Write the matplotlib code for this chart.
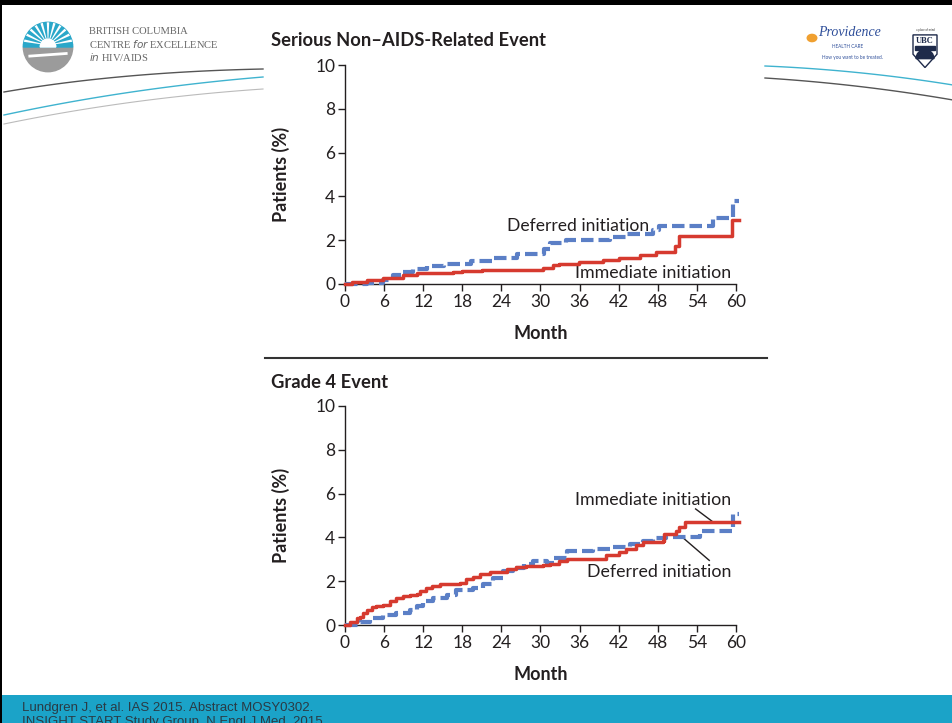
import matplotlib
matplotlib.use("Agg")
import matplotlib.pyplot as plt
import numpy as np
from matplotlib.patches import Rectangle, Circle, Wedge, Polygon
from matplotlib.lines import Line2D

plt.rcParams['font.family'] = ['Lato', 'DejaVu Sans']

# ---------------- data ----------------
months_ticks = [0, 6, 12, 18, 24, 30, 36, 42, 48, 54, 60]
pct_ticks = [0, 2, 4, 6, 8, 10]

# Serious non-AIDS-related event
snae_imm_t = [0, 1.0, 3.4, 5.8, 8.9, 11.0, 16.5, 18.0, 21.0, 30.4, 31.9, 32.9, 35.9, 39.6, 42.1, 45.2, 47.7, 50.6, 51.2, 59.4, 60.5]
snae_imm_v = [0, 0.1, 0.18, 0.27, 0.4, 0.48, 0.55, 0.6, 0.65, 0.75, 0.85, 0.92, 1.0, 1.08, 1.2, 1.32, 1.47, 1.75, 2.2, 2.9, 2.9]
snae_def_t = [0, 3.4, 5.8, 7.4, 8.9, 10.4, 12.6, 15.2, 19.3, 22.9, 26.4, 30.5, 31.4, 33.9, 40.6, 43.1, 47.2, 48.2, 56.4, 59.5, 60.5]
snae_def_v = [0, 0.05, 0.2, 0.4, 0.55, 0.67, 0.8, 0.93, 1.05, 1.2, 1.36, 1.6, 1.85, 2.0, 2.15, 2.3, 2.45, 2.65, 3.0, 3.8, 3.8]

# Grade 4 event
g4_imm_t = [0, 0.8, 1.8, 2.3, 2.8, 3.3, 4.1, 4.8, 5.9, 6.9, 7.9, 8.9, 10.0, 11.0, 11.5, 12.5, 13.3, 14.6, 15.6, 17.6, 18.6, 19.7, 20.7, 22.2, 24.8, 26.3, 27.8, 30.4, 31.4, 32.9, 34.0, 38.5, 40.1, 42.1, 43.1, 44.7, 45.7, 48.8, 49.0, 50.8, 51.3, 52.1, 60.5]
g4_imm_v = [0, 0.15, 0.3, 0.38, 0.54, 0.69, 0.82, 0.88, 0.92, 1.08, 1.23, 1.34, 1.38, 1.43, 1.54, 1.69, 1.77, 1.85, 1.89, 1.92, 2.08, 2.2, 2.31, 2.42, 2.54, 2.66, 2.69, 2.72, 2.8, 2.92, 3.03, 3.03, 3.18, 3.34, 3.49, 3.65, 3.77, 3.85, 4.15, 4.3, 4.46, 4.72, 4.72]
g4_def_t = [0, 2.3, 3.8, 5.9, 7.9, 10.0, 11.0, 12.0, 13.5, 15.6, 17.1, 19.7, 21.2, 22.7, 24.3, 25.8, 27.4, 28.9, 31.0, 32.0, 34.0, 38.1, 40.6, 43.7, 45.7, 47.2, 49.3, 54.4, 59.5, 60.5]
g4_def_v = [0, 0.15, 0.3, 0.46, 0.54, 0.69, 0.85, 1.08, 1.23, 1.38, 1.58, 1.69, 1.85, 2.15, 2.46, 2.62, 2.77, 2.92, 2.85, 3.08, 3.38, 3.49, 3.54, 3.69, 3.85, 3.95, 4.0, 4.3, 5.05, 5.05]

RED = '#d63a2f'
BLUE = '#5b7fc6'
TXT = '#231f20'

W, H = 953, 723
fig = plt.figure(figsize=(W / 100, H / 100), dpi=100)

def fx(px):
    return px / W

def fy(py):
    return 1 - py / H

def make_axes(top_px, bottom_px):
    ax = fig.add_axes([fx(345), fy(bottom_px), fx(736) - fx(345), fy(top_px) - fy(bottom_px)])
    ax.set_xlim(0, 60)
    ax.set_ylim(0, 10)
    for s in ['top', 'right']:
        ax.spines[s].set_visible(False)
    for s in ['left', 'bottom']:
        ax.spines[s].set_color(TXT)
        ax.spines[s].set_linewidth(1.0)
    ax.set_xticks(months_ticks)
    ax.set_yticks(pct_ticks)
    ax.tick_params(axis='both', direction='out', length=5, width=1.0, colors=TXT,
                   labelsize=12.5, pad=2)
    ax.set_xticklabels([str(m) for m in months_ticks])
    ax.set_yticklabels([str(p) for p in pct_ticks])
    ax.set_xlabel('Month', fontsize=13, fontweight='bold', color=TXT, labelpad=11)
    ax.set_ylabel('Patients (%)', fontsize=13, fontweight='bold', color=TXT, labelpad=18)
    ax.patch.set_alpha(0)
    return ax

# ---------------- top chart ----------------
ax1 = make_axes(65, 284)
ax1.step(snae_def_t, snae_def_v, where='post', color=BLUE, lw=3, ls=(0, (3.0, 1.2)), clip_on=False, zorder=3)
ax1.step(snae_imm_t, snae_imm_v, where='post', color=RED, lw=2.5, clip_on=False, zorder=4)
ax1.text(46.7, 2.65, 'Deferred initiation', ha='right', va='center', fontsize=12.6, color=TXT)
ax1.text(59.3, 0.5, 'Immediate initiation', ha='right', va='center', fontsize=12.8, color=TXT)
fig.text(fx(271), fy(40), 'Serious Non\u2013AIDS-Related Event', fontsize=13.2, fontweight='bold',
         color=TXT, ha='left', va='center')

# ---------------- bottom chart ----------------
ax2 = make_axes(406, 625)
ax2.step(g4_def_t, g4_def_v, where='post', color=BLUE, lw=3, ls=(0, (3.0, 1.2)), clip_on=False, zorder=3)
ax2.step(g4_imm_t, g4_imm_v, where='post', color=RED, lw=2.5, clip_on=False, zorder=4)
ax2.text(59.3, 5.7, 'Immediate initiation', ha='right', va='center', fontsize=12.8, color=TXT)
ax2.text(59.3, 2.42, 'Deferred initiation', ha='right', va='center', fontsize=12.8, color=TXT)
ax2.plot([53.8, 56.4], [5.3, 4.72], color=TXT, lw=1.0, clip_on=False)
ax2.plot([51.8, 55.9], [4.0, 2.95], color=TXT, lw=1.0, clip_on=False)
fig.text(fx(271), fy(382), 'Grade 4 Event', fontsize=13.2, fontweight='bold',
         color=TXT, ha='left', va='center')

# separator line
fig.add_artist(Line2D([fx(265), fx(767)], [fy(358), fy(358)], color='#333333', lw=1.5))

# ---------------- slide decoration ----------------
# border
fig.add_artist(Rectangle((0, fy(5)), 1, fy(0) - fy(5), transform=fig.transFigure,
                         color='black', lw=0))
fig.add_artist(Rectangle((0, 0), fx(2), 1, transform=fig.transFigure, color='black', lw=0))

# footer
fig.add_artist(Rectangle((fx(2), 0), 1, fy(695), transform=fig.transFigure,
                         color='#1ba3c8', lw=0))
fig.text(fx(22), fy(708), 'Lundgren J, et al. IAS 2015. Abstract MOSY0302.',
         fontsize=9.5, color='#2a3a44', family=['Liberation Sans Narrow', 'Liberation Sans', 'DejaVu Sans'],
         ha='left', va='center')
fig.text(fx(22), fy(722), 'INSIGHT START Study Group. N Engl J Med. 2015.',
         fontsize=9.5, color='#2a3a44', family=['Liberation Sans Narrow', 'Liberation Sans', 'DejaVu Sans'],
         ha='left', va='center')

# swoosh lines
def curve(p0, p1, p2, color, lw):
    t = np.linspace(0, 1, 60)
    xs = (1 - t) ** 2 * p0[0] + 2 * (1 - t) * t * p1[0] + t ** 2 * p2[0]
    ys = (1 - t) ** 2 * p0[1] + 2 * (1 - t) * t * p1[1] + t ** 2 * p2[1]
    fig.add_artist(Line2D([fx(v) for v in xs], [fy(v) for v in ys], color=color, lw=lw))

curve((4, 92), (120, 72), (263, 69), '#555555', 1.0)
curve((4, 115), (130, 88), (263, 77), '#3fb3cf', 1.0)
curve((4, 124), (130, 98), (263, 89), '#bbbbbb', 0.8)
curve((765, 66), (860, 70), (953, 85), '#3fb3cf', 1.0)
curve((765, 78), (860, 84), (953, 100), '#555555', 1.0)

# BC Centre logo
lax = fig.add_axes([fx(22), fy(74), fx(74) - fx(22), fy(20) - fy(74)])
lax.set_xlim(-1, 1)
lax.set_ylim(-1, 1)
lax.set_aspect('equal')
lax.axis('off')
lax.add_patch(Wedge((0, 0), 0.95, 180, 360, color='#9b9b9b'))
lax.add_patch(Wedge((0, 0), 0.95, 0, 180, color='#2aa7c9'))
for ang in np.linspace(15, 165, 11):
    a = np.radians(ang)
    lax.add_patch(Polygon([[0.25 * np.cos(a - 0.06), 0.05 + 0.25 * np.sin(a - 0.06)],
                           [0.95 * np.cos(a - 0.05), 0.95 * np.sin(a - 0.05)],
                           [0.95 * np.cos(a + 0.05), 0.95 * np.sin(a + 0.05)],
                           [0.25 * np.cos(a + 0.06), 0.05 + 0.25 * np.sin(a + 0.06)]],
                          color='white', lw=0))
lax.add_patch(Wedge((0, 0.0), 0.3, 0, 180, color='white'))
lax.plot([-0.7, 0.7], [-0.35, -0.25], color='white', lw=2)

serif = ['Liberation Serif', 'DejaVu Serif']
fig.text(fx(89), fy(31), 'BRITISH COLUMBIA', fontsize=7.6, color='#666666', family=serif, va='center')
fig.text(fx(89), fy(44), 'CENTRE $\\it{for}$ EXCELLENCE', fontsize=7.6, color='#666666', family=serif, va='center')
fig.text(fx(89), fy(57), '$\\it{in}$ HIV/AIDS', fontsize=7.6, color='#666666', family=serif, va='center')

# Providence logo
fig.text(fx(818), fy(33), 'Providence', fontsize=10, color='#2f4f9a', style='italic',
         family=['Liberation Serif', 'DejaVu Serif'], va='center')
fig.text(fx(832), fy(46), 'HEALTH CARE', fontsize=3.4, color='#2f4f9a', va='center')
fig.text(fx(822), fy(58), 'How you want to be treated.', fontsize=3.4, color='#2f4f9a', va='center')
fig.add_artist(Circle((fx(812), fy(38)), 0.005, transform=fig.transFigure, color='#f0a030'))

# UBC shield
uax = fig.add_axes([fx(910), fy(72), fx(940) - fx(910), fy(26) - fy(72)])
uax.set_xlim(0, 1)
uax.set_ylim(0, 1.55)
uax.axis('off')
uax.add_patch(Polygon([[0.1, 1.25], [0.9, 1.25], [0.9, 0.6], [0.5, 0.15], [0.1, 0.6]],
                      closed=True, facecolor='white', edgecolor='#1e2a4a', lw=1))
uax.text(0.5, 1.05, 'UBC', ha='center', va='center', fontsize=6, color='#1e2a4a',
         family=['Liberation Serif'], fontweight='bold')
uax.add_patch(Wedge((0.5, 0.45), 0.3, 0, 180, color='#1e2a4a'))
uax.add_patch(Rectangle((0.18, 0.75), 0.64, 0.12, color='#1e2a4a'))
uax.text(0.5, 1.42, 'a place of mind', ha='center', va='center', fontsize=2, color='#333333')

fig.savefig('out.png', dpi=100)
